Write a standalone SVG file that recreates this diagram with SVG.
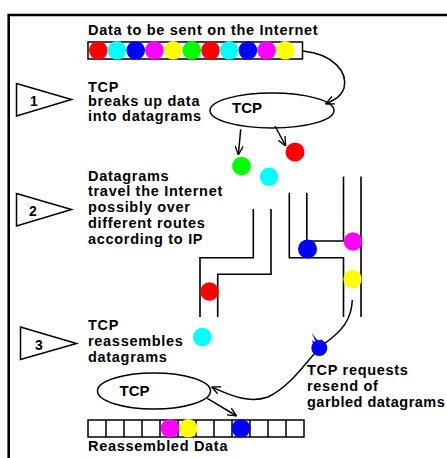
<svg xmlns="http://www.w3.org/2000/svg" width="447" height="458" viewBox="0 0 447 458">
  <style>
    .t { font-family: "Liberation Sans", Arial, Helvetica, sans-serif; font-weight: bold; font-size: 14.5px; letter-spacing: 0.7px; fill: #000; }
    .n { font-family: "Liberation Sans", Arial, Helvetica, sans-serif; font-weight: bold; font-size: 14px; fill: #000; text-anchor: middle; }
    .ln { fill: none; stroke: #000; stroke-width: 1.5; }
    .rt { fill: none; stroke: #000; stroke-width: 1.6; }
    .arr { fill: none; stroke: #000; stroke-width: 1.5; marker-end: url(#open); }
    .r { fill: #ff0000; } .c { fill: #00ffff; } .b { fill: #0000ff; }
    .m { fill: #ff00ff; } .y { fill: #ffff00; } .g { fill: #00ff00; }
  </style>
  <defs>
    <marker id="open" viewBox="0 0 10 10" refX="10" refY="5" markerWidth="9" markerHeight="9" markerUnits="userSpaceOnUse" orient="auto">
      <path d="M0,0.5 L10,5 L0,9.5" fill="none" stroke="#000" stroke-width="1.5"/>
    </marker>
  </defs>

  <rect width="447" height="458" fill="#fff"/>
  <!-- outer frame (open on right and bottom) -->
  <path d="M8.7 458 V15 H447" fill="none" stroke="#000" stroke-width="2.6"/>

  <!-- step pennants -->
  <g id="step1">
    <polygon class="ln" points="16.5,83.5 71.5,99.5 16.5,116"/>
    <text class="n" x="34" y="106">1</text>
  </g>
  <g id="step2">
    <polygon class="ln" points="16.5,193.5 71.5,209.5 16.5,226"/>
    <text class="n" x="33" y="216">2</text>
  </g>
  <g id="step3">
    <polygon class="ln" points="20.5,327 76.5,343.5 20.5,359.5"/>
    <text class="n" x="39" y="350">3</text>
  </g>

  <!-- captions -->
  <g id="captions">
    <text class="t" x="88" y="34.5">Data to be sent on the Internet</text>
    <text class="t" x="88" y="91.5">TCP</text>
    <text class="t" x="88" y="106">breaks up data</text>
    <text class="t" x="88" y="120.5">into datagrams</text>
    <text class="t" x="88" y="180.5">Datagrams</text>
    <text class="t" x="88" y="196">travel the Internet</text>
    <text class="t" x="88" y="212">possibly over</text>
    <text class="t" x="88" y="228">different routes</text>
    <text class="t" x="88" y="244">according to IP</text>
    <text class="t" x="88" y="330">TCP</text>
    <text class="t" x="88" y="346">reassembles</text>
    <text class="t" x="88" y="361.5">datagrams</text>
    <text class="t" x="307" y="375">TCP requests</text>
    <text class="t" x="307" y="391">resend of</text>
    <text class="t" x="307" y="406.5" textLength="138.5" lengthAdjust="spacing">garbled datagrams</text>
    <text class="t" x="88" y="450.5">Reassembled Data</text>
  </g>

  <!-- outgoing data stream -->
  <g id="data-bar">
    <rect class="ln" x="88" y="42" width="214.5" height="17" fill="#fff"/>
    <circle class="r" cx="98.3" cy="50.3" r="9.3"/>
    <circle class="c" cx="117" cy="50.3" r="9.3"/>
    <circle class="b" cx="135.7" cy="50.3" r="9.3"/>
    <circle class="m" cx="154.4" cy="50.3" r="9.3"/>
    <circle class="y" cx="173.1" cy="50.3" r="9.3"/>
    <circle class="g" cx="191.8" cy="50.3" r="9.3"/>
    <circle class="r" cx="210.5" cy="50.3" r="9.3"/>
    <circle class="c" cx="229.2" cy="50.3" r="9.3"/>
    <circle class="b" cx="247.9" cy="50.3" r="9.3"/>
    <circle class="m" cx="266.6" cy="50.3" r="9.3"/>
    <circle class="y" cx="285.3" cy="50.3" r="9.3"/>
  </g>

  <!-- sending TCP -->
  <g id="tcp-send">
    <ellipse class="ln" cx="272" cy="110.5" rx="62" ry="17.5" fill="#fff"/>
    <text class="t" x="232" y="112.5" style="letter-spacing:0;font-size:15px">TCP</text>
  </g>

  <!-- receiving TCP -->
  <g id="tcp-receive">
    <ellipse class="ln" cx="154" cy="391" rx="56.5" ry="18" fill="#fff"/>
    <text class="t" x="119.5" y="395.5" style="letter-spacing:0;font-size:15px">TCP</text>
  </g>

  <!-- network routes -->
  <g id="routes">
    <path class="rt" d="M253.3 209 V257.7 H200 V317"/>
    <path class="rt" d="M271 209 V274.3 H217.7 V317"/>
    <path class="rt" d="M289.3 192.7 V257.7 H343.5 V317"/>
    <path class="rt" d="M306.8 192.7 V241 H343.5"/>
    <path class="rt" d="M343.5 176.5 V241"/>
    <path class="rt" d="M361 176.5 V317"/>
  </g>

  <!-- connectors -->
  <g id="connectors">
    <path class="arr" d="M303 51 C 333 54, 348 72, 344 88 C 341 97, 334 100, 325.5 104"/>
    <path class="arr" d="M240.7 129.3 L238.3 155"/>
    <path class="arr" d="M275 126 L285.7 146"/>
    <path class="ln" d="M352.3 300 C 351.5 320, 342 331, 324 344 C 306 360, 293 385, 268 397 C 248 404, 230 395, 211.5 387" marker-end="url(#open)"/>
    <path class="arr" d="M207.3 398.3 L236.7 416"/>
  </g>

  <!-- datagrams in transit -->
  <g id="datagrams">
    <circle class="g" cx="241.5" cy="166" r="9.3"/>
    <circle class="r" cx="295" cy="152" r="9.5"/>
    <circle class="c" cx="269" cy="176.7" r="9.2"/>
    <circle class="r" cx="209.5" cy="291.5" r="9.3"/>
    <circle class="b" cx="307.5" cy="249" r="9.5"/>
    <circle class="m" cx="353" cy="241.5" r="9.3"/>
    <circle class="y" cx="352.5" cy="279" r="9.2"/>
    <circle class="c" cx="202.3" cy="337" r="9.3"/>
  </g>

  <!-- garbled datagram -->
  <g id="garbled">
    <circle class="b" cx="319.3" cy="348" r="8"/>
    <path class="b" d="M311.5 333 L319 342 L316.5 343 Z"/>
    <path class="b" d="M312 340 L317 344 L313.5 345.5 Z"/>
    <path class="b" d="M322 339 L322.5 342 L319.5 341.5 Z"/>
  </g>

  <!-- reassembled stream -->
  <g id="reassembled-bar">
    <rect class="ln" x="88" y="420" width="216" height="17" fill="#fff"/>
    <path class="ln" d="M106 420v17M124 420v17M142 420v17M160 420v17M178 420v17M196 420v17M214 420v17M232 420v17M250 420v17M268 420v17M286 420v17"/>
    <circle class="m" cx="170" cy="428.3" r="9.3"/>
    <circle class="y" cx="188.3" cy="428.3" r="9.3"/>
    <circle class="b" cx="241" cy="428.3" r="9.3"/>
  </g>
</svg>
